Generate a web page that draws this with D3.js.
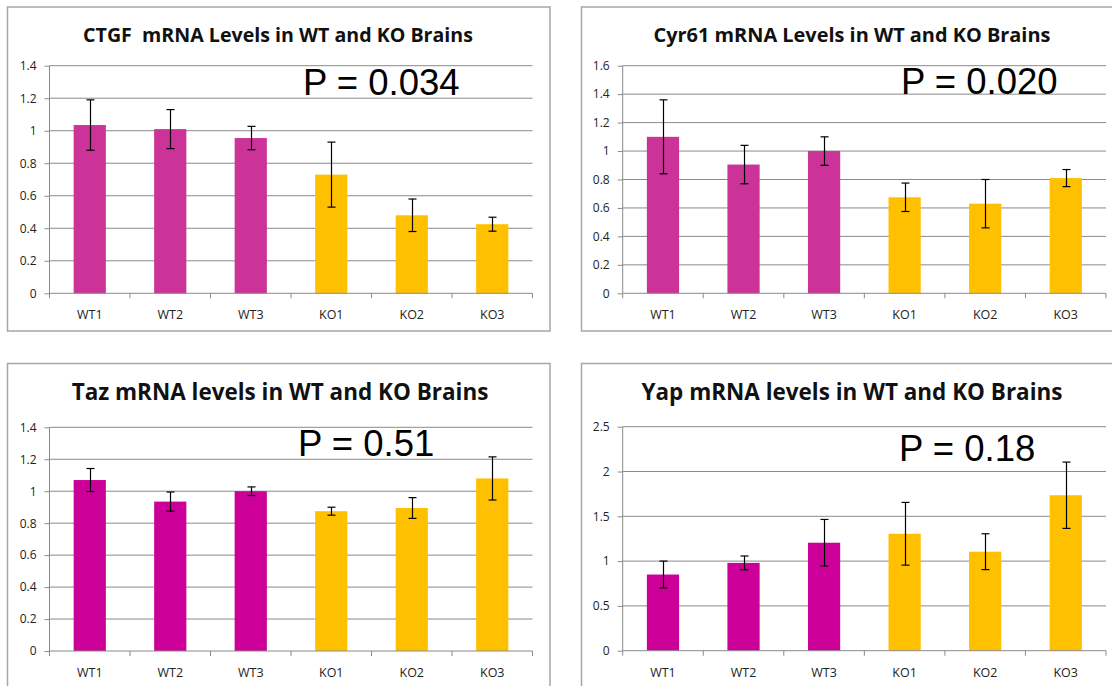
<!DOCTYPE html>
<html>
<head>
<meta charset="utf-8">
<script src="https://cdn.jsdelivr.net/npm/d3@7"></script>
<style>
  body { margin: 0; background: #ffffff; }
  svg { display: block; }
</style>
</head>
<body>
<svg id="fig" width="1112" height="686"></svg>
<script>
// Samples shown on every chart
const categories = ["WT1", "WT2", "WT3", "KO1", "KO2", "KO3"];
const genotype   = ["WT", "WT", "WT", "KO", "KO", "KO"];

// Relative mRNA levels (mean) and error bar half-widths, per gene
const ctgfMean  = [1.035, 1.01, 0.955, 0.73, 0.48, 0.425];
const ctgfErr   = [0.155, 0.12, 0.072, 0.20, 0.10, 0.043];
const cyr61Mean = [1.10, 0.905, 1.00, 0.675, 0.63, 0.81];
const cyr61Err  = [0.26, 0.135, 0.10, 0.10, 0.17, 0.06];
const tazMean   = [1.07, 0.935, 1.00, 0.875, 0.895, 1.08];
const tazErr    = [0.072, 0.06, 0.027, 0.025, 0.065, 0.135];
const yapMean   = [0.85, 0.98, 1.205, 1.305, 1.105, 1.735];
const yapErr    = [0.15, 0.077, 0.26, 0.35, 0.20, 0.37];

// Y axis ticks and their labels
const ticks14 = [0, 0.2, 0.4, 0.6, 0.8, 1, 1.2, 1.4];
const labels14 = ["0", "0.2", "0.4", "0.6", "0.8", "1", "1.2", "1.4"];
const ticks16 = [0, 0.2, 0.4, 0.6, 0.8, 1, 1.2, 1.4, 1.6];
const labels16 = ["0", "0.2", "0.4", "0.6", "0.8", "1", "1.2", "1.4", "1.6"];
const ticks25 = [0, 0.5, 1, 1.5, 2, 2.5];
const labels25 = ["0", "0.5", "1", "1.5", "2", "2.5"];

// Chart titles and p-values
const titles = [
  "CTGF\u00a0 mRNA Levels in WT and KO Brains",
  "Cyr61 mRNA Levels in WT and KO Brains",
  "Taz mRNA levels in WT and KO Brains",
  "Yap mRNA levels in WT and KO Brains"
];
const pValues = ["P = 0.034", "P = 0.020", "P = 0.51", "P = 0.18"];

// Page layout for each chart: frame, plot area, title and p-value placement
const panels = [
  { mean: ctgfMean, err: ctgfErr, ticks: ticks14, tickLabels: labels14, title: titles[0], p: pValues[0],
    frame: [7.5, 7, 550, 331], plot: [49.5, 532.5, 65.7, 293.3],
    titleBox: { cx: 278, y: 41.5, w: 390, size: 19 }, pPos: [303, 95], wt: "#cc3399" },
  { mean: cyr61Mean, err: cyr61Err, ticks: ticks16, tickLabels: labels16, title: titles[1], p: pValues[1],
    frame: [581.5, 7, 1124, 331], plot: [622.7, 1106, 65.7, 293.3],
    titleBox: { cx: 852, y: 41.5, w: 397, size: 19 }, pPos: [901, 94], wt: "#cc3399" },
  { mean: tazMean, err: tazErr, ticks: ticks14, tickLabels: labels14, title: titles[2], p: pValues[2],
    frame: [7.5, 363.5, 550, 700], plot: [49.5, 532.5, 427.3, 651],
    titleBox: { cx: 280, y: 400, w: 417, size: 22 }, pPos: [298, 456], wt: "#cc0099" },
  { mean: yapMean, err: yapErr, ticks: ticks25, tickLabels: labels25, title: titles[3], p: pValues[3],
    frame: [581.5, 363.5, 1124, 700], plot: [622.7, 1106, 426.7, 650.7],
    titleBox: { cx: 852, y: 400, w: 421, size: 22 }, pPos: [899, 461], wt: "#cc0099" }
];

const koColor = "#ffc000";
const gridColor = "#8a8a8a";
const frameColor = "#a6a6a6";
const labelFont = "'Open Sans', 'Noto Sans', sans-serif";

const svg = d3.select("#fig");

panels.forEach(pn => {
  const g = svg.append("g");
  const [fx0, fy0, fx1, fy1] = pn.frame;
  const [left, right, top, bottom] = pn.plot;

  // chart frame
  g.append("rect")
    .attr("x", fx0).attr("y", fy0)
    .attr("width", fx1 - fx0).attr("height", fy1 - fy0)
    .attr("fill", "#ffffff")
    .attr("stroke", frameColor).attr("stroke-width", 1.5);

  const x = d3.scaleBand().domain(categories).range([left, right]).paddingInner(0.6).paddingOuter(0.3);
  const xb = d3.scaleBand().domain(categories).range([left, right]);
  const y = d3.scaleLinear().domain([0, d3.max(pn.ticks)]).range([bottom, top]);

  // horizontal gridlines
  g.append("g").selectAll("line").data(pn.ticks.filter(t => t > 0)).join("line")
    .attr("x1", left).attr("x2", right)
    .attr("y1", d => y(d)).attr("y2", d => y(d))
    .attr("stroke", gridColor).attr("stroke-width", 1);

  // y axis
  const yAxis = d3.axisLeft(y).tickValues(pn.ticks)
    .tickFormat((d, i) => pn.tickLabels[i]).tickSize(5).tickPadding(8);
  const ya = g.append("g").attr("transform", `translate(${left},0)`).call(yAxis);
  ya.select(".domain").attr("stroke", gridColor).attr("d", `M0,${top}V${bottom}`);
  ya.selectAll(".tick line").attr("stroke", gridColor);
  ya.selectAll(".tick text")
    .attr("font-family", labelFont).attr("font-size", 12).attr("fill", "#222222");

  // bars
  g.append("g").selectAll("rect").data(categories).join("rect")
    .attr("x", d => x(d))
    .attr("width", x.bandwidth())
    .attr("y", (d, i) => y(pn.mean[i]))
    .attr("height", (d, i) => y(0) - y(pn.mean[i]))
    .attr("fill", (d, i) => genotype[i] === "WT" ? pn.wt : koColor);

  // x axis baseline with ticks at category boundaries
  const xa = g.append("g");
  xa.append("line").attr("x1", left).attr("x2", right)
    .attr("y1", bottom).attr("y2", bottom).attr("stroke", gridColor);
  const bounds = categories.map(c => xb(c)).concat([right]);
  xa.selectAll("line.tk").data(bounds).join("line").attr("class", "tk")
    .attr("x1", d => d).attr("x2", d => d)
    .attr("y1", bottom).attr("y2", bottom + 5).attr("stroke", gridColor);
  xa.selectAll("text").data(categories).join("text")
    .attr("x", d => xb(d) + xb.bandwidth() / 2)
    .attr("y", bottom + 26)
    .attr("text-anchor", "middle")
    .attr("font-family", labelFont).attr("font-size", 12.5).attr("fill", "#222222")
    .text(d => d);

  // error bars
  const eb = g.append("g").attr("stroke", "#000000").attr("stroke-width", 1.2);
  categories.forEach((c, i) => {
    const cx = Math.round(x(c) + x.bandwidth() / 2) + 0.5;
    const hi = y(pn.mean[i] + pn.err[i]);
    const lo = y(pn.mean[i] - pn.err[i]);
    eb.append("line").attr("x1", cx).attr("x2", cx).attr("y1", hi).attr("y2", lo);
    eb.append("line").attr("x1", cx - 4).attr("x2", cx + 4).attr("y1", hi).attr("y2", hi);
    eb.append("line").attr("x1", cx - 4).attr("x2", cx + 4).attr("y1", lo).attr("y2", lo);
  });

  // title, sized to its box width
  const t = g.append("text")
    .attr("x", pn.titleBox.cx).attr("y", pn.titleBox.y)
    .attr("text-anchor", "middle")
    .attr("font-family", "'Open Sans', sans-serif").attr("font-weight", 700)
    .attr("font-size", pn.titleBox.size).attr("fill", "#111111")
    .text(pn.title);
  const tw = t.node().getComputedTextLength();
  t.attr("font-size", pn.titleBox.size * pn.titleBox.w / tw);

  // p-value annotation
  g.append("text")
    .attr("x", pn.pPos[0]).attr("y", pn.pPos[1])
    .attr("font-family", "'Liberation Sans', Arial, sans-serif")
    .attr("font-size", 36.5).attr("fill", "#000000")
    .text(pn.p);
});
</script>
</body>
</html>
